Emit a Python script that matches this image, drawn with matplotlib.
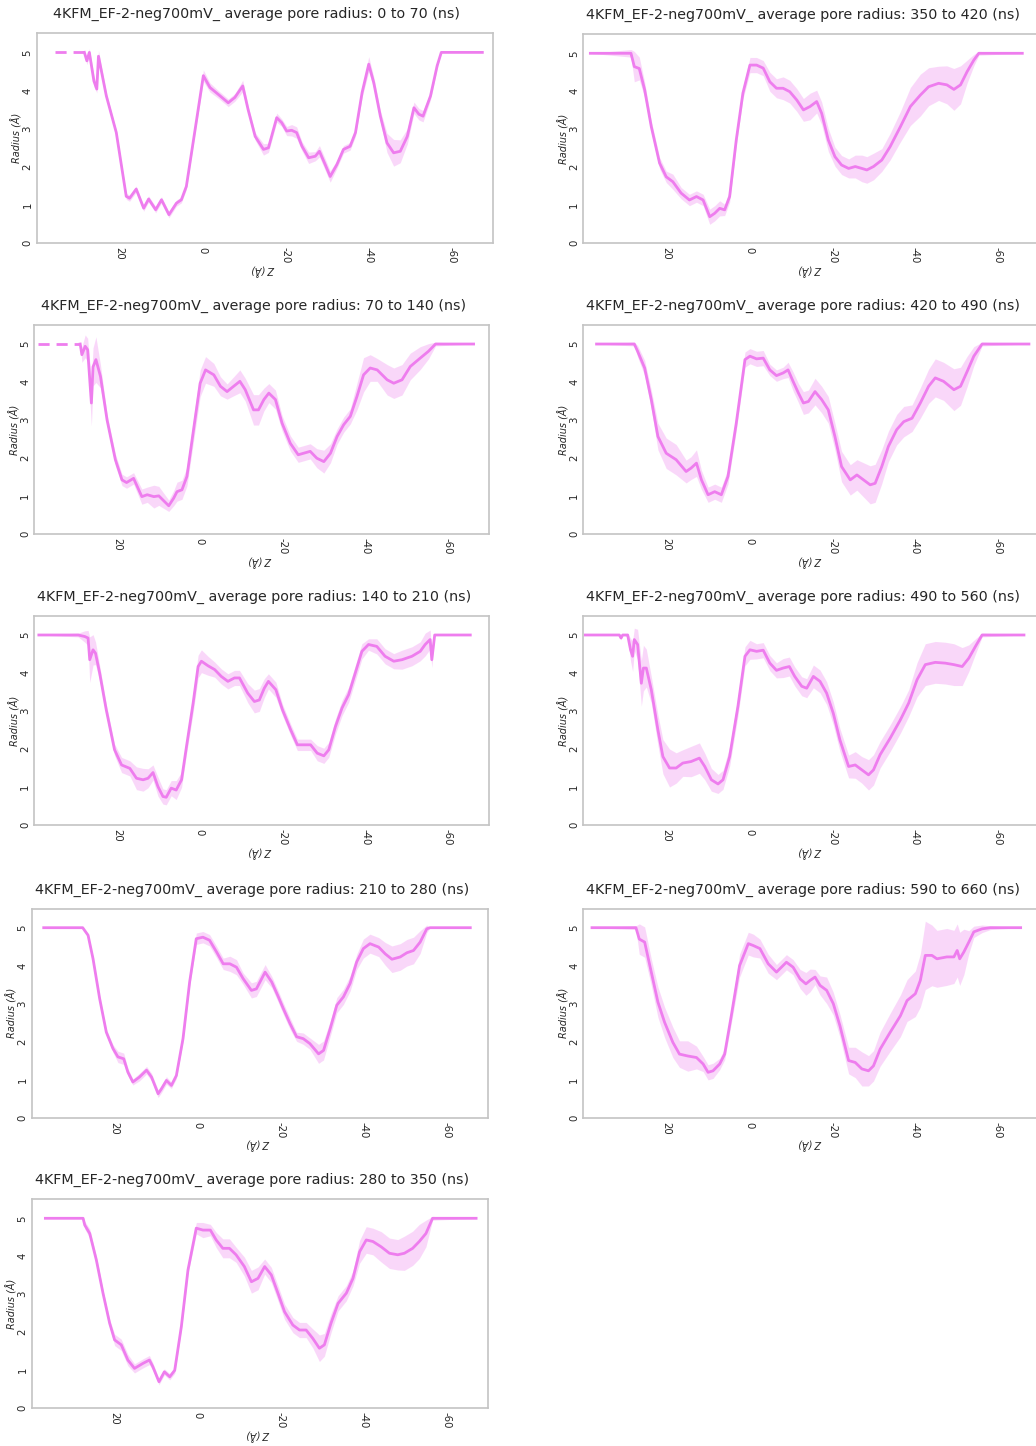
import numpy as np
import matplotlib
matplotlib.use("Agg")
import matplotlib.pyplot as plt

W, H = 1036, 1446
prefix = "4KFM_EF-2-neg700mV_ average pore radius: "
windows = ["0 to 70", "70 to 140", "140 to 210", "210 to 280", "280 to 350",
           "350 to 420", "420 to 490", "490 to 560", "590 to 660"]

# ---- data: z (Å), mean radius (Å), std (Å) per time window ----
z_0_70 = [35.5, 28.5, 27.9, 27.3, 26.2, 25.5, 25.1, 23.2, 20.8, 18.4, 17.6, 16.0, 14.2, 13.0, 11.3, 9.9, 8.1, 6.3, 5.1, 3.9,
          1.9, -0.2, -1.8, -3.8, -6.2, -7.8, -9.7, -11.0, -12.7, -14.7, -15.9, -17.9, -19.1, -20.3, -21.5, -22.7, -24.0, -25.6,
          -27.2, -28.2, -29.6, -30.8, -32.4, -34.0, -35.6, -36.9, -38.5, -40.1, -41.3, -42.9, -44.5, -46.1, -47.7, -49.4, -51.0,
          -52.2, -53.2, -55.0, -56.6, -57.6, -67.5]
r_0_70 = [5, 5, 4.78, 5.0, 4.25, 4.04, 4.9, 3.86, 2.9, 1.23, 1.18, 1.42, 0.92, 1.16, 0.88, 1.14, 0.75, 1.05, 1.14, 1.49,
          2.9, 4.39, 4.08, 3.9, 3.68, 3.82, 4.12, 3.5, 2.8, 2.46, 2.5, 3.29, 3.16, 2.94, 2.96, 2.9, 2.54, 2.24,
          2.28, 2.41, 2.06, 1.75, 2.06, 2.46, 2.54, 2.9, 3.95, 4.69, 4.21, 3.33, 2.63, 2.37, 2.41, 2.8, 3.55,
          3.38, 3.33, 3.86, 4.65, 5.0, 5.0]
sd_0_70 = [0, 0, 0.1, 0.1, 0.15, 0.1, 0.15, 0.08, 0.06, 0.08, 0.08, 0.08, 0.08, 0.08, 0.08, 0.08, 0.08, 0.08, 0.08, 0.08,
           0.08, 0.15, 0.12, 0.1, 0.1, 0.1, 0.15, 0.1, 0.1, 0.15, 0.12, 0.12, 0.1, 0.12, 0.15, 0.15, 0.12, 0.15,
           0.12, 0.15, 0.15, 0.15, 0.1, 0.1, 0.1, 0.1, 0.12, 0.2, 0.15, 0.15, 0.25, 0.35, 0.3, 0.2, 0.15,
           0.15, 0.15, 0.1, 0.08, 0, 0]

z_70_140 = [39.1, 28.9, 28.5, 27.7, 27.1, 26.2, 25.8, 25.1, 24.0, 22.4, 20.4, 18.8, 17.7, 16.0, 14.0, 12.7, 11.1, 9.9, 7.5, 6.3,
            5.5, 4.3, 3.1, 1.5, -0.1, -1.4, -3.4, -5.0, -6.6, -8.2, -9.7, -11.0, -13.0, -14.2, -15.5, -16.7, -18.3, -19.9,
            -21.9, -23.8, -25.1, -26.7, -28.3, -30.0, -31.6, -33.2, -34.8, -36.4, -38.0, -39.6, -41.2, -42.9, -45.3, -46.9,
            -48.9, -50.9, -53.3, -55.3, -57.0, -66.2]
r_70_140 = [5, 5, 4.72, 4.94, 4.85, 3.45, 4.4, 4.59, 4.15, 3.0, 1.96, 1.43, 1.36, 1.47, 0.99, 1.04, 0.99, 1.01, 0.75, 0.95,
            1.12, 1.17, 1.52, 2.75, 3.97, 4.32, 4.19, 3.89, 3.75, 3.89, 4.02, 3.8, 3.27, 3.27, 3.54, 3.71, 3.54, 2.92,
            2.39, 2.09, 2.13, 2.18, 2.0, 1.91, 2.13, 2.57, 2.88, 3.1, 3.62, 4.19, 4.37, 4.32, 4.06, 3.97,
            4.06, 4.41, 4.63, 4.81, 5.0, 5.0]
sd_70_140 = [0, 0, 0.2, 0.3, 0.3, 0.6, 0.5, 0.6, 0.3, 0.15, 0.15, 0.15, 0.15, 0.15, 0.2, 0.2, 0.3, 0.25, 0.15, 0.2,
             0.25, 0.25, 0.25, 0.3, 0.35, 0.35, 0.3, 0.25, 0.2, 0.25, 0.3, 0.3, 0.4, 0.4, 0.3, 0.25, 0.25, 0.2,
             0.2, 0.2, 0.2, 0.2, 0.25, 0.3, 0.25, 0.2, 0.2, 0.2, 0.35, 0.45, 0.35, 0.3, 0.4, 0.4,
             0.4, 0.35, 0.3, 0.2, 0.05, 0]

z_140_210 = [38.9, 29.4, 27.8, 27.0, 26.6, 25.8, 25.2, 24.2, 22.6, 20.6, 18.9, 16.9, 15.3, 13.7, 12.5, 11.3, 10.1, 8.9, 8.1, 6.9,
             5.7, 4.4, 3.2, 1.6, 0.4, -0.4, -2.0, -3.6, -5.2, -6.8, -8.4, -9.6, -11.6, -13.2, -14.4, -15.6, -16.6, -18.4,
             -20.0, -22.0, -23.6, -25.2, -26.8, -28.4, -30.0, -31.2, -32.8, -34.4, -36.0, -37.6, -39.2, -40.8, -42.8, -44.8,
             -46.9, -48.9, -51.3, -53.3, -54.5, -55.7, -56.1, -56.8, -65.4]
r_140_210 = [5, 5, 4.96, 4.92, 4.35, 4.61, 4.52, 4.0, 3.03, 1.98, 1.58, 1.49, 1.23, 1.19, 1.23, 1.38, 1.01, 0.75, 0.73, 0.97,
             0.92, 1.19, 2.07, 3.21, 4.17, 4.31, 4.19, 4.09, 3.91, 3.78, 3.87, 3.87, 3.47, 3.25, 3.29, 3.6, 3.78, 3.56,
             3.03, 2.5, 2.11, 2.11, 2.11, 1.89, 1.82, 1.98, 2.59, 3.08, 3.43, 4.0, 4.57, 4.75, 4.7, 4.44,
             4.31, 4.35, 4.44, 4.57, 4.75, 4.88, 4.35, 5.0, 5.0]
sd_140_210 = [0, 0.05, 0.15, 0.2, 0.6, 0.4, 0.3, 0.2, 0.15, 0.15, 0.2, 0.2, 0.3, 0.3, 0.25, 0.2, 0.25, 0.2, 0.2, 0.2,
              0.25, 0.2, 0.2, 0.25, 0.3, 0.3, 0.25, 0.2, 0.2, 0.2, 0.2, 0.2, 0.25, 0.3, 0.3, 0.25, 0.2, 0.2,
              0.15, 0.15, 0.15, 0.15, 0.15, 0.2, 0.2, 0.2, 0.2, 0.2, 0.2, 0.2, 0.2, 0.15, 0.2, 0.2,
              0.2, 0.25, 0.25, 0.25, 0.3, 0.25, 0.2, 0, 0]

z_210_280 = [37.1, 27.7, 26.4, 25.2, 23.6, 22.0, 20.4, 19.2, 17.8, 16.8, 15.6, 14.0, 12.3, 11.1, 9.5, 8.7, 7.5, 6.3, 5.1, 3.5,
             1.9, 0.3, -1.3, -2.9, -4.6, -6.2, -7.8, -9.4, -11.0, -13.0, -14.2, -16.3, -17.9, -19.5, -20.7, -22.3, -23.9,
             -25.5, -27.1, -29.2, -30.4, -32.0, -33.6, -35.2, -36.8, -38.4, -40.0, -41.6, -43.7, -45.3, -46.9, -48.9,
             -50.5, -52.1, -53.7, -55.3, -56.1, -65.8]
r_210_280 = [5, 5, 4.8, 4.18, 3.13, 2.25, 1.82, 1.6, 1.55, 1.2, 0.94, 1.07, 1.25, 1.07, 0.63, 0.76, 0.98, 0.85, 1.11, 2.08,
             3.57, 4.71, 4.75, 4.67, 4.36, 4.05, 4.05, 3.96, 3.66, 3.35, 3.39, 3.83, 3.57, 3.18, 2.87, 2.48, 2.13,
             2.08, 1.95, 1.68, 1.77, 2.34, 2.96, 3.18, 3.53, 4.1, 4.45, 4.58, 4.49, 4.31, 4.17, 4.23,
             4.34, 4.4, 4.62, 4.97, 5.0, 5.0]
sd_210_280 = [0, 0, 0.05, 0.05, 0.05, 0.08, 0.1, 0.15, 0.15, 0.1, 0.08, 0.1, 0.1, 0.1, 0.1, 0.1, 0.1, 0.08, 0.08, 0.08,
              0.1, 0.15, 0.15, 0.15, 0.15, 0.15, 0.2, 0.2, 0.15, 0.2, 0.2, 0.2, 0.15, 0.15, 0.15, 0.15, 0.12,
              0.15, 0.15, 0.25, 0.25, 0.2, 0.2, 0.2, 0.2, 0.2, 0.25, 0.25, 0.25, 0.3, 0.35, 0.35,
              0.35, 0.35, 0.3, 0.1, 0, 0]

z_280_350 = [36.7, 27.6, 27.2, 26.0, 24.4, 22.8, 21.2, 20.0, 18.4, 16.8, 15.2, 13.2, 11.6, 10.8, 9.3, 8.0, 6.7, 5.5, 3.9, 2.3,
             0.3, -1.3, -3.1, -4.5, -6.1, -7.7, -9.3, -11.3, -13.0, -14.6, -16.2, -17.8, -19.4, -21.0, -23.0, -24.6,
             -26.2, -27.8, -29.4, -30.6, -32.2, -33.9, -35.9, -37.5, -39.1, -40.7, -42.3, -44.3, -46.3, -48.3, -49.9,
             -51.9, -53.5, -55.1, -56.7, -67.2]
r_280_350 = [5, 5, 4.82, 4.6, 3.9, 3.03, 2.24, 1.8, 1.67, 1.27, 1.05, 1.18, 1.27, 1.1, 0.7, 0.96, 0.83, 1.0, 2.15, 3.64,
             4.74, 4.69, 4.69, 4.43, 4.21, 4.21, 4.04, 3.73, 3.33, 3.42, 3.73, 3.51, 3.03, 2.54, 2.19, 2.06,
             2.06, 1.84, 1.58, 1.67, 2.24, 2.76, 3.03, 3.42, 4.12, 4.43, 4.39, 4.25, 4.08, 4.04, 4.08,
             4.21, 4.39, 4.6, 5.0, 5.0]
sd_280_350 = [0, 0, 0.1, 0.12, 0.1, 0.08, 0.1, 0.15, 0.15, 0.15, 0.12, 0.12, 0.12, 0.1, 0.08, 0.08, 0.08, 0.08, 0.08, 0.1,
              0.15, 0.2, 0.15, 0.2, 0.25, 0.25, 0.2, 0.25, 0.3, 0.3, 0.2, 0.2, 0.2, 0.2, 0.2, 0.2,
              0.2, 0.25, 0.35, 0.3, 0.25, 0.2, 0.2, 0.2, 0.3, 0.35, 0.35, 0.4, 0.4, 0.4, 0.45,
              0.45, 0.45, 0.35, 0.05, 0]

z_350_420 = [38.3, 28.5, 27.7, 26.5, 25.2, 23.6, 21.6, 20.0, 18.4, 16.4, 14.4, 12.7, 11.1, 9.5, 8.3, 7.1, 5.9, 4.7, 3.1, 1.5,
             -0.2, -1.8, -3.4, -5.0, -6.6, -8.2, -9.8, -11.5, -13.1, -14.7, -16.3, -17.5, -19.1, -20.7, -22.3, -24.0,
             -25.6, -27.2, -28.4, -30.0, -32.0, -34.0, -36.5, -38.9, -41.3, -43.3, -45.7, -47.7, -49.4, -51.0, -52.6,
             -54.2, -55.4, -65.9]
r_350_420 = [5, 5, 4.65, 4.6, 4.04, 3.07, 2.11, 1.75, 1.62, 1.32, 1.14, 1.23, 1.14, 0.7, 0.79, 0.92, 0.88, 1.23, 2.72, 3.95,
             4.69, 4.69, 4.61, 4.25, 4.08, 4.08, 3.99, 3.77, 3.51, 3.6, 3.73, 3.42, 2.72, 2.28, 2.06, 1.97,
             2.02, 1.97, 1.93, 2.02, 2.19, 2.54, 3.07, 3.6, 3.9, 4.12, 4.21, 4.17, 4.05, 4.17, 4.52,
             4.82, 5.0, 5.0]
sd_350_420 = [0, 0.1, 0.4, 0.3, 0.2, 0.15, 0.15, 0.15, 0.2, 0.15, 0.15, 0.15, 0.15, 0.2, 0.2, 0.2, 0.15, 0.15, 0.15, 0.15,
              0.2, 0.2, 0.2, 0.25, 0.25, 0.3, 0.3, 0.3, 0.3, 0.35, 0.3, 0.3, 0.3, 0.25, 0.25, 0.25,
              0.3, 0.35, 0.35, 0.35, 0.3, 0.35, 0.4, 0.5, 0.55, 0.5, 0.45, 0.5, 0.55, 0.5, 0.3,
              0.15, 0.05, 0]

z_420_490 = [36.8, 27.7, 26.9, 25.2, 23.6, 22.0, 20.0, 17.6, 15.2, 14.0, 12.7, 11.5, 9.9, 8.3, 6.7, 5.1, 3.1, 1.0, -0.2, -1.8,
             -3.4, -5.0, -6.6, -8.2, -9.4, -10.6, -11.9, -13.1, -14.3, -15.9, -17.5, -19.1, -20.7, -22.3, -24.4, -26.0,
             -27.6, -29.2, -30.4, -32.0, -33.6, -35.6, -37.3, -39.3, -41.3, -43.3, -44.9, -46.9, -49.4, -51.0, -52.6,
             -54.2, -56.2, -67.5]
r_420_490 = [5, 5, 4.81, 4.37, 3.54, 2.57, 2.13, 1.96, 1.65, 1.74, 1.87, 1.43, 1.04, 1.12, 1.04, 1.52, 2.92, 4.59, 4.68, 4.61,
             4.63, 4.32, 4.17, 4.24, 4.32, 4.02, 3.71, 3.45, 3.49, 3.75, 3.54, 3.27, 2.57, 1.78, 1.43, 1.56,
             1.43, 1.3, 1.34, 1.78, 2.31, 2.75, 2.96, 3.05, 3.45, 3.89, 4.11, 4.02, 3.8, 3.89, 4.28,
             4.68, 5.0, 5.0]
sd_420_490 = [0, 0.05, 0.15, 0.2, 0.25, 0.35, 0.4, 0.4, 0.3, 0.3, 0.35, 0.25, 0.2, 0.2, 0.2, 0.2, 0.2, 0.2, 0.2, 0.2,
              0.2, 0.15, 0.15, 0.15, 0.2, 0.25, 0.25, 0.3, 0.3, 0.35, 0.35, 0.35, 0.35, 0.4, 0.4, 0.4,
              0.45, 0.5, 0.5, 0.45, 0.4, 0.4, 0.4, 0.35, 0.4, 0.45, 0.5, 0.5, 0.55, 0.5, 0.4,
              0.25, 0.05, 0]

z_490_560 = [39.5, 31.3, 30.9, 30.5, 29.3, 28.6, 28.1, 27.7, 26.9, 26.0, 25.5, 24.8, 23.6, 22.0, 20.8, 19.2, 17.6, 16.0, 14.0,
             12.0, 10.7, 9.1, 7.5, 6.3, 4.7, 2.7, 1.0, -0.2, -1.8, -3.4, -5.0, -6.6, -8.2, -9.7, -11.0, -12.7, -13.9,
             -15.5, -17.1, -18.7, -20.3, -21.9, -24.0, -25.6, -27.2, -28.8, -30.0, -31.6, -34.0, -36.5, -38.5, -40.5,
             -42.5, -44.9, -47.3, -49.4, -51.4, -53.0, -54.6, -56.2, -66.3]
r_490_560 = [5, 5, 4.92, 5, 5, 4.61, 4.44, 4.88, 4.75, 3.73, 4.13, 4.13, 3.56, 2.5, 1.8, 1.5, 1.5, 1.63, 1.67,
             1.76, 1.54, 1.19, 1.08, 1.19, 1.8, 3.12, 4.44, 4.61, 4.57, 4.6, 4.26, 4.07, 4.13, 4.17, 3.91, 3.65, 3.6,
             3.91, 3.78, 3.47, 2.94, 2.24, 1.54, 1.58, 1.45, 1.32, 1.45, 1.85, 2.28, 2.77, 3.21, 3.82,
             4.22, 4.28, 4.26, 4.22, 4.17, 4.39, 4.7, 5.0, 5.0]
sd_490_560 = [0, 0, 0.05, 0, 0.05, 0.3, 0.4, 0.3, 0.4, 0.6, 0.6, 0.5, 0.35, 0.4, 0.45, 0.5, 0.4, 0.35, 0.4,
              0.4, 0.35, 0.3, 0.25, 0.25, 0.25, 0.25, 0.25, 0.25, 0.2, 0.2, 0.2, 0.2, 0.25, 0.25, 0.25, 0.25, 0.25,
              0.3, 0.3, 0.3, 0.3, 0.3, 0.3, 0.35, 0.35, 0.4, 0.4, 0.35, 0.35, 0.35, 0.35, 0.45,
              0.55, 0.55, 0.55, 0.55, 0.5, 0.35, 0.2, 0.05, 0]

z_590_660 = [37.9, 27.3, 26.5, 25.2, 23.6, 22.0, 20.4, 18.4, 16.8, 14.8, 12.7, 11.1, 9.9, 8.7, 7.1, 5.9, 4.3, 2.3, 0.2, -1.0,
             -2.6, -4.6, -6.6, -7.8, -9.0, -10.6, -12.3, -13.7, -14.7, -15.9, -17.1, -18.7, -20.3, -21.9, -24.0, -25.6,
             -27.2, -28.8, -30.0, -31.6, -34.0, -36.5, -38.1, -40.1, -41.3, -42.5, -44.1, -45.3, -47.7, -49.4, -50.2,
             -50.8, -51.8, -53.0, -54.2, -56.2, -58.2, -65.5]
r_590_660 = [5, 5, 4.7, 4.62, 3.83, 3.04, 2.51, 1.98, 1.67, 1.62, 1.58, 1.41, 1.19, 1.23, 1.41, 1.67, 2.68, 4.0, 4.58, 4.53,
             4.45, 4.05, 3.83, 3.96, 4.09, 3.96, 3.65, 3.52, 3.61, 3.7, 3.48, 3.35, 3.0, 2.42, 1.5, 1.45,
             1.28, 1.23, 1.36, 1.8, 2.24, 2.68, 3.08, 3.26, 3.61, 4.27, 4.27, 4.18, 4.23, 4.23, 4.4,
             4.18, 4.36, 4.62, 4.89, 4.97, 5.0, 5.0]
sd_590_660 = [0, 0.05, 0.4, 0.4, 0.35, 0.4, 0.4, 0.4, 0.35, 0.4, 0.3, 0.2, 0.2, 0.2, 0.15, 0.15, 0.2, 0.3, 0.3, 0.3,
              0.25, 0.25, 0.2, 0.2, 0.2, 0.2, 0.25, 0.3, 0.3, 0.2, 0.25, 0.35, 0.3, 0.3, 0.35, 0.4,
              0.45, 0.4, 0.4, 0.45, 0.5, 0.55, 0.55, 0.6, 0.7, 0.9, 0.8, 0.75, 0.75, 0.7, 0.7,
              0.7, 0.6, 0.3, 0.15, 0.1, 0.05, 0]

series = [(z_0_70, r_0_70, sd_0_70), (z_70_140, r_70_140, sd_70_140), (z_140_210, r_140_210, sd_140_210),
          (z_210_280, r_210_280, sd_210_280), (z_280_350, r_280_350, sd_280_350), (z_350_420, r_350_420, sd_350_420),
          (z_420_490, r_420_490, sd_420_490), (z_490_560, r_490_560, sd_490_560), (z_590_660, r_590_660, sd_590_660)]

x_ticks = [20, 0, -20, -40, -60]
y_ticks = [0, 1, 2, 3, 4, 5]

# ---- layout (pixel boxes: left, top, right, bottom) ----
boxes = [(36.7, 33.3, 492.7, 243.3), (34.3, 325, 489.3, 534.3), (34.3, 616, 489.3, 825),
         (31.7, 908.7, 487.7, 1117.7), (31.7, 1199.3, 487.7, 1408.3),
         (583.3, 34.3, 1039.3, 243.3), (583.3, 325, 1039.3, 534.3), (583.3, 616, 1039.3, 825),
         (583.3, 908.7, 1039.3, 1117.5)]
dashed_lead = [True, True, False, False, False, False, False, False, False]

LINE = "#ee7dee"
TXT = "#262626"

fig = plt.figure(figsize=(W / 100, H / 100), dpi=100)
fig.patch.set_facecolor("white")

for (z, r, sd), (l, t, rr, b), win, dl in zip(series, boxes, windows, dashed_lead):
    ax = fig.add_axes([l / W, 1 - b / H, (rr - l) / W, (b - t) / H])
    z = np.asarray(z, float)
    r = np.asarray(r, float)
    sd = np.asarray(sd, float)
    ax.fill_between(z, r - sd, r + sd, color=LINE, alpha=0.3, lw=0)
    if dl:
        ax.plot(z[:2], r[:2], color=LINE, lw=2.0, ls=(0, (4, 2.5)), solid_capstyle="butt")
        ax.plot(z[1:], r[1:], color=LINE, lw=2.0)
    else:
        ax.plot(z, r, color=LINE, lw=2.0)
    ax.set_xlim(40, -70)
    ax.set_ylim(0, 5.5)
    ax.set_xticks(x_ticks)
    ax.set_xticklabels([str(v) for v in x_ticks], rotation=270, fontsize=7.3, color=TXT)
    ax.set_yticks(y_ticks)
    ax.set_yticklabels([str(v) for v in y_ticks], rotation=90, fontsize=7.3, color=TXT, va="center")
    ax.tick_params(length=0, pad=3)
    for s in ax.spines.values():
        s.set_color("#c4c4c4")
        s.set_linewidth(1.2)
    aw, ah = rr - l, b - t
    ax.set_ylabel("Radius (Å)", fontsize=7, style="italic", color=TXT)
    ax.yaxis.set_label_coords(-20 / aw, 0.5)
    ax.yaxis.label.set_va("center")
    ax.set_xlabel("Z (Å)", fontsize=7, style="italic", color=TXT, rotation=180)
    ax.xaxis.set_label_coords(0.497, -26 / ah)
    ax.xaxis.label.set_va("center")
    cx = (l + rr) / 2 - 8
    fig.text(cx / W, 1 - (t - 15) / H, prefix + win + " (ns)", ha="center", va="baseline",
             fontsize=10.3, color=TXT)

fig.savefig("out.png", dpi=100, facecolor="white")
